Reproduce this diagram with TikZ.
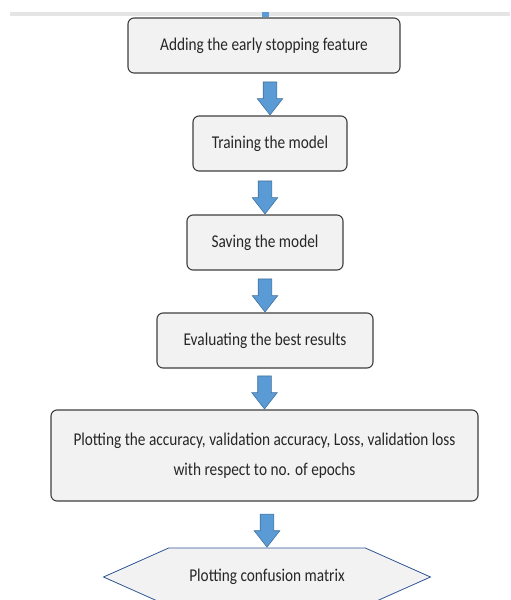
\documentclass[tikz,border=0pt]{standalone}
\usepackage{fontspec}
\setmainfont{Carlito}[FakeStretch=0.85]
\usetikzlibrary{shapes.arrows, shapes.symbols}
\definecolor{boxfill}{HTML}{F2F2F2}
\definecolor{boxline}{HTML}{3F3F3F}
\definecolor{arrowfill}{HTML}{5B9BD5}
\definecolor{arrowline}{HTML}{41719C}
\definecolor{hexline}{HTML}{2F5597}

\begin{document}
\begin{tikzpicture}[
        x=1pt, y=-1pt,
        font=\fontsize{18}{30}\selectfont,
        box/.style={draw=boxline, fill=boxfill, rounded corners=6pt,
          line width=1.1pt, align=center, inner sep=0pt, text=black!85},
        flow/.style={single arrow, draw=arrowline, fill=arrowfill, line width=0.6pt,
          rotate=-90, anchor=tip, minimum height=33pt, minimum width=25pt,
          inner xsep=0pt, inner ysep=6.5pt, single arrow head extend=6pt,
          single arrow tip angle=76},
        ]
        \clip (0,0) rectangle (511,600);
        % top rule of the page
        \draw[black!10, line width=4pt] (10,14) -- (510,14);
        \fill[arrowfill] (262,12) rectangle (269,17);

        \node[box, minimum width=272pt, minimum height=55pt] (s_1) at (264,45.5)
          {Adding the early stopping feature};
        \node[box, minimum width=154pt, minimum height=55pt] (s_2) at (270,143.5)
          {Training the model};
        \node[box, minimum width=156pt, minimum height=55pt] (s_3) at (265,242.5)
          {Saving the model};
        \node[box, minimum width=216pt, minimum height=55pt] (s_4) at (265,340.5)
          {Evaluating the best results};
        \node[box, minimum width=427pt, minimum height=91pt] (s_5) at (264.5,455.5)
          {Plotting the accuracy, validation accuracy, Loss, validation loss\\
           with respect to no. of epochs};
        \node[signal, signal to=west and east, signal pointer angle=48,
          draw=hexline, fill=boxfill, line width=0.8pt, inner sep=0pt,
          text=black!85, minimum width=327pt, minimum height=58pt] (s_6) at (267,577)
          {Plotting confusion matrix};

        \node[flow] (a_1) at (s_2.north) {};
        \node[flow] (a_2) at (s_3.north) {};
        \node[flow] (a_3) at (s_4.north) {};
        \node[flow] (a_4) at (s_5.north) {};
        \node[flow] (a_5) at (s_6.north) {};
      \end{tikzpicture}
\end{document}
